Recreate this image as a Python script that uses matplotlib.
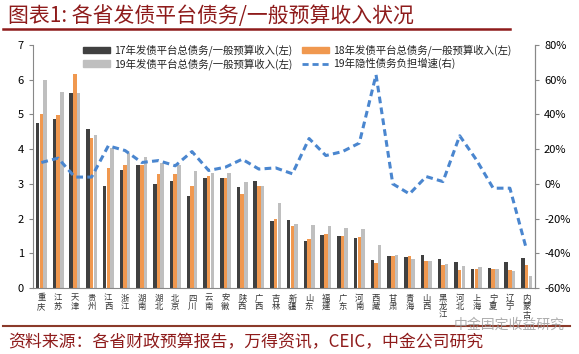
import matplotlib
matplotlib.use("Agg")
import matplotlib.pyplot as plt
import numpy as np
from matplotlib.lines import Line2D
from matplotlib.patches import Patch

plt.rcParams['font.family'] = ['Noto Sans CJK SC', 'DejaVu Sans']

provinces = ["重庆", "江苏", "天津", "贵州", "江西", "浙江", "湖南", "湖北", "北京", "四川",
             "云南", "安徽", "陕西", "广西", "吉林", "新疆", "山东", "福建", "广东", "河南",
             "西藏", "甘肃", "青海", "山西", "黑龙江", "河北", "上海", "宁夏", "辽宁", "内蒙古"]

ratio17 = [4.75, 4.86, 5.61, 4.58, 2.93, 3.39, 3.53, 3.01, 3.07, 2.65,
           3.16, 3.16, 2.92, 3.08, 1.94, 1.96, 1.35, 1.54, 1.51, 1.43,
           0.82, 0.92, 0.88, 0.95, 0.83, 0.76, 0.54, 0.57, 0.76, 0.86]
ratio18 = [5.01, 4.99, 6.17, 4.32, 3.45, 3.54, 3.53, 3.28, 3.27, 2.93,
           3.24, 3.16, 2.71, 2.94, 2.00, 1.79, 1.41, 1.55, 1.50, 1.47,
           0.73, 0.93, 0.91, 0.77, 0.67, 0.53, 0.56, 0.56, 0.53, 0.65]
ratio19 = [6.00, 5.65, 5.63, 4.40, 4.03, 3.88, 3.77, 3.59, 3.54, 3.36,
           3.32, 3.32, 3.05, 2.94, 2.45, 1.84, 1.82, 1.79, 1.72, 1.71,
           1.24, 0.96, 0.85, 0.79, 0.69, 0.63, 0.60, 0.56, 0.50, 0.35]
growth19 = [12.3, 14.8, 3.9, 3.9, 21.9, 19.2, 12.3, 13.4, 10.4, 18.6,
            7.7, 9.6, 14.2, 8.5, 9.2, 5.8, 26.1, 16.3, 18.6, 23.5,
            62.8, 0.0, -5.8, 4.2, 1.3, 27.7, 13.8, -2.5, -2.5, -38.0]

labels = ["17年发债平台总债务/一般预算收入(左)", "18年发债平台总债务/一般预算收入(左)",
          "19年发债平台总债务/一般预算收入(左)", "19年隐性债务负担增速(右)"]

c17, c18, c19, cline = "#404040", "#F0984F", "#BFBFBF", "#4A86CF"
red = "#8E1B1B"

fig = plt.figure(figsize=(5.79, 3.54), dpi=100)
ax = fig.add_axes([0.057, 0.1864, 0.867, 0.6866])
x = np.arange(len(provinces))
w = 0.22
ax.bar(x - w, ratio17, w * 0.95, color=c17)
ax.bar(x, ratio18, w * 0.95, color=c18)
ax.bar(x + w, ratio19, w * 0.95, color=c19)
ax.set_xlim(-0.5, len(provinces) - 0.5)
ax.set_ylim(0, 7)
ax.set_yticks(range(0, 8))
ax.set_xticks(x)
ax.set_xticklabels(["\n".join(p) for p in provinces], fontsize=6, color="#333333", linespacing=0.95)
ax.tick_params(axis='x', length=0, pad=4)
ax.tick_params(axis='y', labelsize=8, length=3, direction='out', color="#888888")
ax.spines['top'].set_visible(False)
for s in ['left', 'bottom', 'right']:
    ax.spines[s].set_color("#888888")
    ax.spines[s].set_linewidth(0.8)

ax2 = ax.twinx()
ax2.plot(x, growth19, color=cline, lw=2.2, ls=(0, (2.2, 1.4)))
ax2.set_ylim(-60, 80)
ax2.set_yticks(range(-60, 81, 20))
ax2.set_yticklabels([f"{v}%" for v in range(-60, 81, 20)])
ax2.tick_params(axis='y', labelsize=8, length=3, color="#888888")
for s in ['top', 'left', 'bottom']:
    ax2.spines[s].set_visible(False)
ax2.spines['right'].set_color("#888888")
ax2.spines['right'].set_linewidth(0.8)

handles = [Patch(color=c17), Patch(color=c18), Patch(color=c19),
           Line2D([0], [0], color=cline, lw=2, ls=(0, (2.2, 1.4)))]
order = [0, 2, 1, 3]
leg = ax.legend([handles[i] for i in order], [labels[i] for i in order], ncol=2,
                loc='upper left', bbox_to_anchor=(0.08, 1.04), frameon=False,
                fontsize=7.5, handlelength=2.6, handleheight=0.6, columnspacing=0.9,
                labelspacing=0.15, handletextpad=0.4)
for t in leg.get_texts():
    t.set_color("#222222")

fig.text(0.014, 0.955, "图表1: 各省发债平台债务/一般预算收入状况", fontsize=15, color=red,
         style='italic', va='center', ha='left')
fig.add_artist(Line2D([0.005, 0.88], [0.918, 0.918], color=red, lw=1.8))
fig.add_artist(Line2D([0.005, 0.985], [0.078, 0.078], color="#8B3A2A", lw=1.5))
fig.text(0.014, 0.032, "资料来源：各省财政预算报告，万得资讯，CEIC，中金公司研究", fontsize=12.2,
         color=red, style='italic', va='center', ha='left')
fig.text(0.975, 0.083, "中金固定收益研究", fontsize=10, color="#999999", alpha=0.8,
         va='center', ha='right')

fig.savefig("out.png", dpi=100)
